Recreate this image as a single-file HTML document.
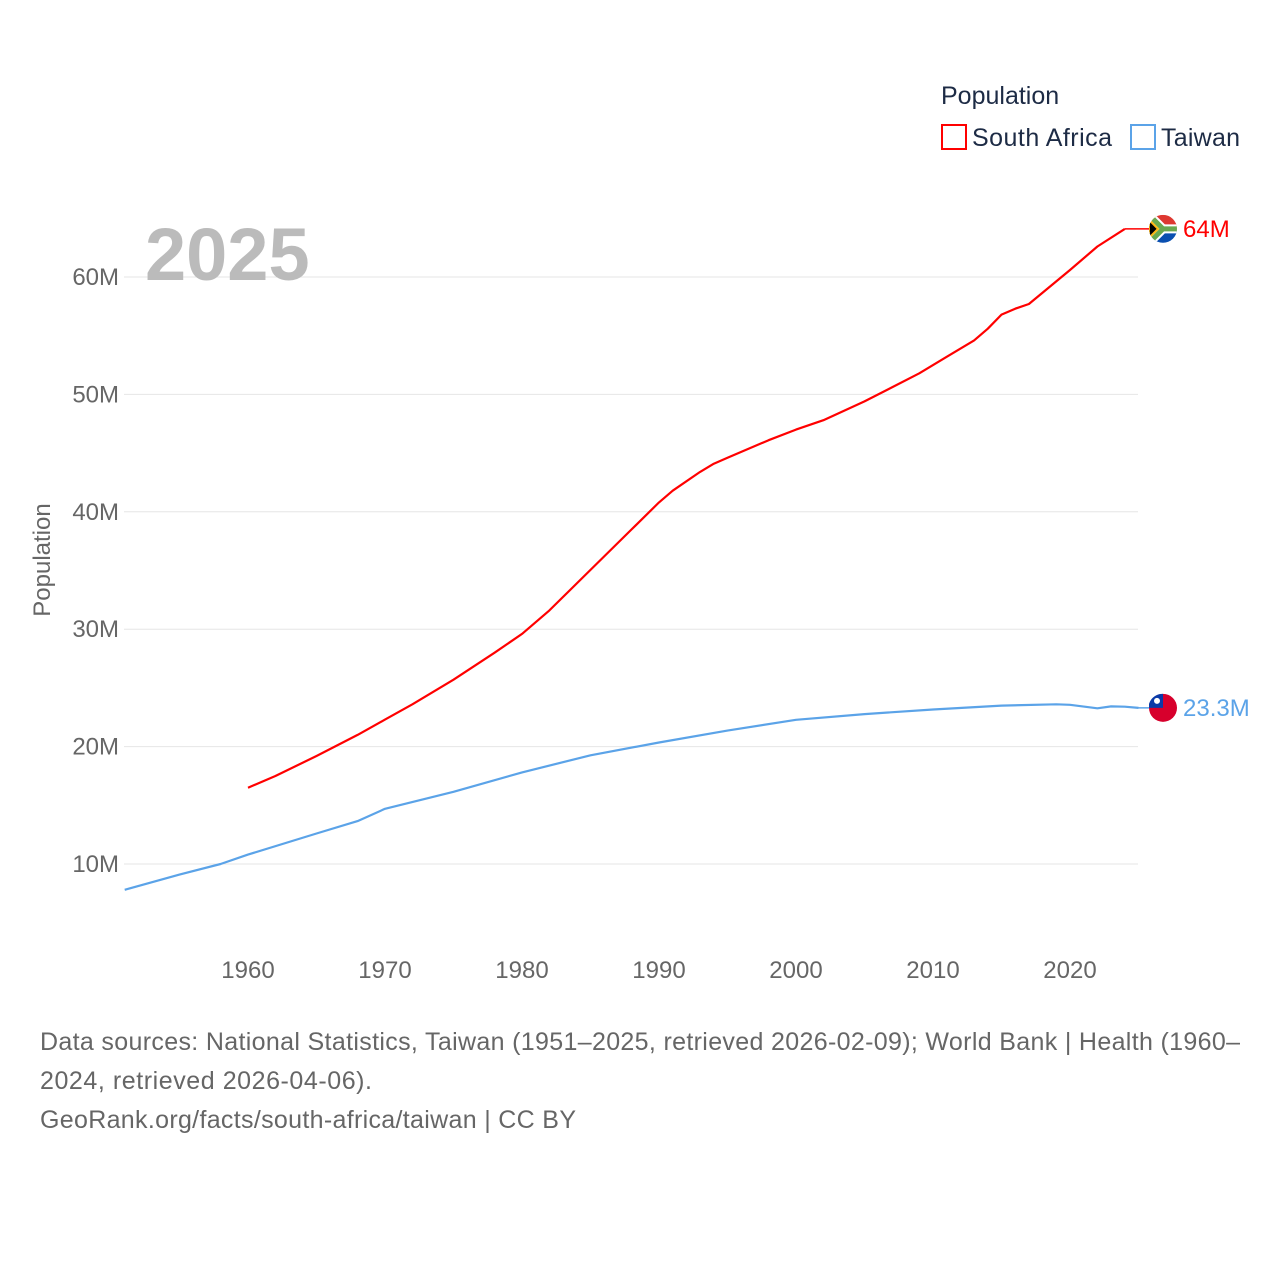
<!DOCTYPE html>
<html><head><meta charset="utf-8">
<style>
body{margin:0;background:#fff;font-family:"Liberation Sans",sans-serif;}
svg text{font-family:"Liberation Sans",sans-serif;}
</style></head>
<body>
<svg id="chart" width="1280" height="1280" viewBox="0 0 1280 1280">
<g id="grid"></g>
<text x="145" y="280" font-size="74" font-weight="bold" fill="#bbb">2025</text>
<text transform="translate(50,560) rotate(-90)" text-anchor="middle" font-size="24" fill="#666">Population</text>
<g id="series"></g>
<text x="941" y="104" font-size="25" fill="#1d2b45">Population</text>
<g>
<rect x="942" y="125" width="24" height="24" fill="none" stroke="#ff0000" stroke-width="2"/>
<text x="972" y="146" font-size="25" fill="#1d2b45" textLength="140">South Africa</text></g>
<g>
<rect x="1131" y="125" width="24" height="24" fill="none" stroke="#5ba3e8" stroke-width="2"/>
<text x="1161" y="146" font-size="25" fill="#1d2b45" textLength="79">Taiwan</text></g>
<text x="40" y="1050" font-size="25" fill="#666" textLength="1200">Data sources: National Statistics, Taiwan (1951–2025, retrieved 2026-02-09); World Bank | Health (1960–</text>
<text x="40" y="1089" font-size="25" fill="#666" textLength="332">2024, retrieved 2026-04-06).</text>
<text x="40" y="1128" font-size="25" fill="#666" textLength="536">GeoRank.org/facts/south-africa/taiwan | CC BY</text>
</svg>
<script>
const yTicks=[10,20,30,40,50,60];
const xTicks=[1960,1970,1980,1990,2000,2010,2020];
const saYears=[1960,1962,1965,1968,1970,1972,1975,1978,1980,1982,1984,1986,1988,1990,1991,1993,1994,1995,1998,2000,2002,2005,2007,2009,2011,2013,2014,2015,2016,2017,2020,2022,2024];
const saValues=[16.5,17.5,19.2,21.0,22.3,23.6,25.7,28.0,29.6,31.6,33.9,36.2,38.5,40.8,41.8,43.4,44.1,44.6,46.1,47.0,47.8,49.4,50.6,51.8,53.2,54.6,55.6,56.8,57.3,57.7,60.6,62.6,64.1];
const twYears=[1951,1955,1958,1960,1965,1968,1970,1975,1980,1985,1990,1995,2000,2005,2010,2015,2019,2020,2022,2023,2024,2025];
const twValues=[7.8,9.1,10.0,10.8,12.6,13.65,14.7,16.15,17.8,19.26,20.35,21.36,22.28,22.77,23.16,23.49,23.6,23.56,23.26,23.42,23.4,23.3];
const NS='http://www.w3.org/2000/svg';
function xs(yr){return 248+(yr-1960)*13.7;}
function ys(v){return 864-(v-10)*11.74;}
const grid=document.getElementById('grid'),ser=document.getElementById('series');
function mk(tag,attrs,parent){const e=document.createElementNS(NS,tag);for(const k in attrs)e.setAttribute(k,attrs[k]);parent.appendChild(e);return e;}
yTicks.forEach(v=>{
 const l=mk('line',{x1:124,x2:1138,y1:ys(v),y2:ys(v),stroke:'#e6e6e6'},grid);
 
 
 const t=mk('text',{x:119,y:ys(v)+8,'text-anchor':'end','font-size':24,fill:'#666'},grid);
 t.textContent=v+'M';
 
 
});
xTicks.forEach(yr=>{
 const t=mk('text',{x:xs(yr),y:978,'text-anchor':'middle','font-size':24,fill:'#666'},grid);
 t.textContent=yr;
 
 
});
function line(years,vals,color,name){
 const d=years.map((y,i)=>(i?'L':'M')+xs(y).toFixed(1)+' '+ys(vals[i]).toFixed(1)).join(' ');
 const p=mk('path',{d:d,fill:'none',stroke:color,'stroke-width':2.2,'stroke-linejoin':'round'},ser);
 
 
}
line(saYears,saValues,'#ff0000','south-africa-line');
line(twYears,twValues,'#5ba3e8','taiwan-line');
const saLast=saValues[saValues.length-1],twLast=twValues[twValues.length-1];
mk('line',{x1:xs(saYears[saYears.length-1]),x2:1150,y1:ys(saLast),y2:ys(saLast),stroke:'#ff0000','stroke-width':1.5},ser);
mk('line',{x1:xs(twYears[twYears.length-1]),x2:1150,y1:ys(twLast),y2:ys(twLast),stroke:'#5ba3e8','stroke-width':1.5},ser);
const sy=ys(saLast),ty=ys(twLast);
const sa=mk('g',{},ser);


const cp=mk('clipPath',{id:'c1'},sa);
mk('circle',{cx:1163,cy:sy,r:14},cp);
const sg=mk('g',{'clip-path':'url(#c1)'},sa);
mk('rect',{x:1149,y:sy-14,width:28,height:14,fill:'#de3831'},sg);
mk('rect',{x:1149,y:sy,width:28,height:14,fill:'#0a4fb0'},sg);
mk('path',{d:`M1149 ${sy-14} L1163 ${sy} L1149 ${sy+14} M1163 ${sy} H1177`,stroke:'#fff','stroke-width':9,fill:'none'},sg);
mk('path',{d:`M1149 ${sy-14} L1163 ${sy} L1149 ${sy+14} M1163 ${sy} H1177`,stroke:'#6aa84f','stroke-width':5,fill:'none'},sg);
mk('path',{d:`M1149 ${sy-9} L1158 ${sy} L1149 ${sy+9} Z`,fill:'#000',stroke:'#ffb612','stroke-width':2},sg);
const tw=mk('g',{},ser);


mk('circle',{cx:1163,cy:ty,r:14,fill:'#d7002c'},tw);
mk('path',{d:`M1163 ${ty} H1149 V${ty-4} A14 14 0 0 1 1163 ${ty-14} Z`,fill:'#0a3aa8'},tw);
mk('circle',{cx:1157,cy:ty-7,r:3,fill:'#fff'},tw);
const l1=mk('text',{x:1183,y:sy+8,'font-size':24,fill:'#ff0000'},ser);l1.textContent='64M';


const l2=mk('text',{x:1183,y:ty+8,'font-size':24,fill:'#5ba3e8'},ser);l2.textContent='23.3M';


</script>
</body></html>
